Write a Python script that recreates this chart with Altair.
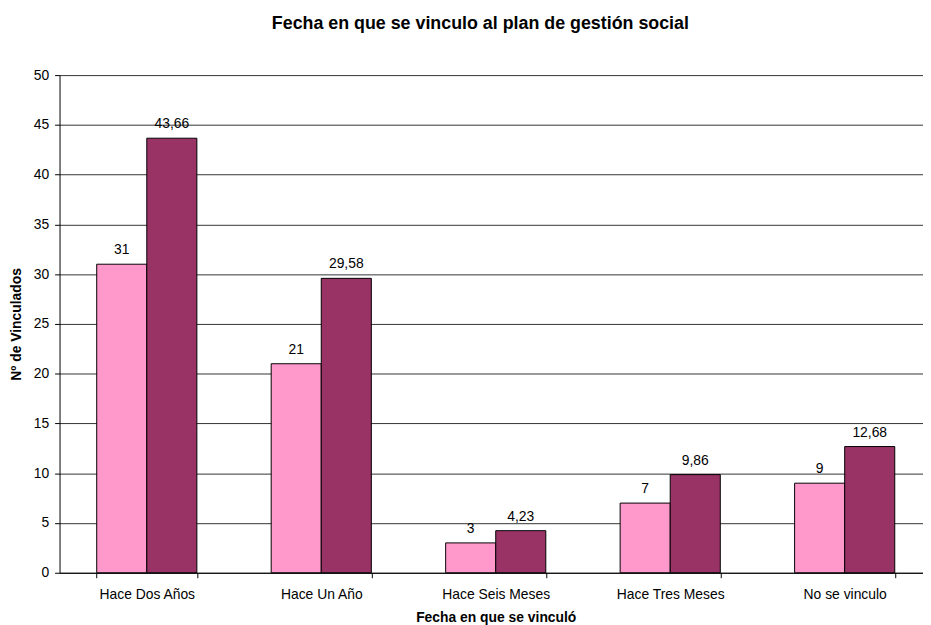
import altair as alt
import pandas as pd

categories = ["Hace Dos Años", "Hace Un Año", "Hace Seis Meses", "Hace Tres Meses", "No se vinculo"]
series = ["Cantidad", "Porcentaje"]
counts = [31, 21, 3, 7, 9]
percents = [43.66, 29.58, 4.23, 9.86, 12.68]
colors = ["#FF99CC", "#993366"]

rows = []
for c, n, p in zip(categories, counts, percents):
    rows.append({"cat": c, "serie": series[0], "valor": n})
    rows.append({"cat": c, "serie": series[1], "valor": p})
df = pd.DataFrame(rows)
df["etiqueta"] = df["valor"].map(lambda v: f"{v:g}".replace(".", ","))

font = "Liberation Sans"

x = alt.X(
    "cat:N", sort=categories, title="Fecha en que se vinculó",
    scale=alt.Scale(rangeMin=0, rangeMax=880, paddingInner=0.426, paddingOuter=0.213),
    axis=alt.Axis(labelAngle=0, tickBand="extent", tickSize=5, labelPadding=10,
                  labelFont=font, labelFontSize=14, labelColor="black",
                  titleFont=font, titleFontSize=14, titleFontWeight="bold", titleColor="black",
                  titlePadding=9, titleX=440, domainColor="black", tickColor="black", grid=False),
)
xo = alt.XOffset("serie:N", sort=series)
y = alt.Y(
    "valor:Q", title="Nº de Vinculados",
    scale=alt.Scale(domain=[0, 50], nice=False),
    axis=alt.Axis(values=list(range(0, 51, 5)), tickSize=5, labelPadding=6,
                  labelFont=font, labelFontSize=14, labelColor="black",
                  titleFont=font, titleFontSize=14, titleFontWeight="bold", titleColor="black",
                  titlePadding=10, domainColor="black", tickColor="black",
                  grid=True, gridColor="#333333", gridWidth=1),
)

base = alt.Chart(df)
bars = base.mark_bar(stroke="black", strokeWidth=1).encode(
    x=x, xOffset=xo, y=y,
    color=alt.Color("serie:N", sort=series, scale=alt.Scale(domain=series, range=colors), legend=None),
)
labels = base.mark_text(baseline="alphabetic", dy=-10, fontSize=14, font=font, color="black").encode(
    x=x, xOffset=xo, y=y, text="etiqueta:N",
)

chart = alt.layer(bars, labels).properties(
    width=871, height=502,
    autosize=alt.AutoSizeParams(type="none"),
    padding={"left": 52, "top": 65, "right": 0, "bottom": 50},
    title=alt.TitleParams("Fecha en que se vinculo al plan de gestión social", font=font, fontSize=18,
                          fontWeight="bold", color="black", anchor="middle", frame="group",
                          dx=-11, offset=36),
).configure_view(strokeWidth=0)

chart.save("out.html", embed_options={"renderer": "svg", "actions": False})
